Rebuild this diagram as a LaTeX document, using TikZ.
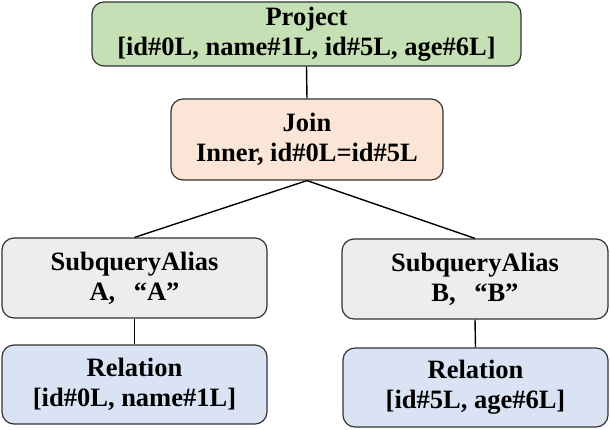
\documentclass[tikz,border=0pt]{standalone}
\usepackage{fontspec}
\setmainfont{Liberation Serif}
\usetikzlibrary{positioning}

\definecolor{projgreen}{HTML}{C5E0B4}
\definecolor{joinpeach}{HTML}{FBE5D6}
\definecolor{aliasgray}{HTML}{EDEDED}
\definecolor{relblue}{HTML}{DAE3F3}

\begin{document}
\begin{tikzpicture}[x=1pt, y=-1pt,
  planbox/.style={draw=black!80, line width=1.2pt, rounded corners=12pt,
    align=center, inner sep=0pt, font=\fontsize{26.5}{30}\selectfont\bfseries},
  link/.style={line width=1.4pt}]
\useasboundingbox (0,0) rectangle (610,429);

% =============== top of the plan ===============
\node[planbox, fill=projgreen, minimum width=429pt, minimum height=64pt]
  (project) at (306.5,34) {Project\\{}[id\#0L, name\#1L, id\#5L, age\#6L]};
\node[planbox, fill=joinpeach, minimum width=272pt, minimum height=81pt]
  (join) at (307,139.5) {Join\\Inner, id\#0L=id\#5L};

% =============== two sides ===============
\node[planbox, fill=aliasgray, minimum width=265pt, minimum height=80pt]
  (aliasA) at (134.5,278) {SubqueryAlias\\A,\hspace{0.7em}“A”};
\node[planbox, fill=aliasgray, minimum width=266pt, minimum height=80pt]
  (aliasB) at (475,279) {SubqueryAlias\\B,\hspace{0.7em}“B”};
\node[planbox, fill=relblue, minimum width=265pt, minimum height=79pt]
  (relA) at (134.5,384.5) {Relation\\{}[id\#0L, name\#1L]};
\node[planbox, fill=relblue, minimum width=265pt, minimum height=79pt]
  (relB) at (475.5,387.5) {Relation\\{}[id\#5L, age\#6L]};

% connectors
\draw[link] (project.south) -- (join.north);
\draw[link] (join.south) -- (aliasA.north);
\draw[link] (join.south) -- (aliasB.north);
\draw[link] (aliasA.south) -- (relA.north);
\draw[link] (aliasB.south) -- (relB.north);

\end{tikzpicture}
\end{document}
